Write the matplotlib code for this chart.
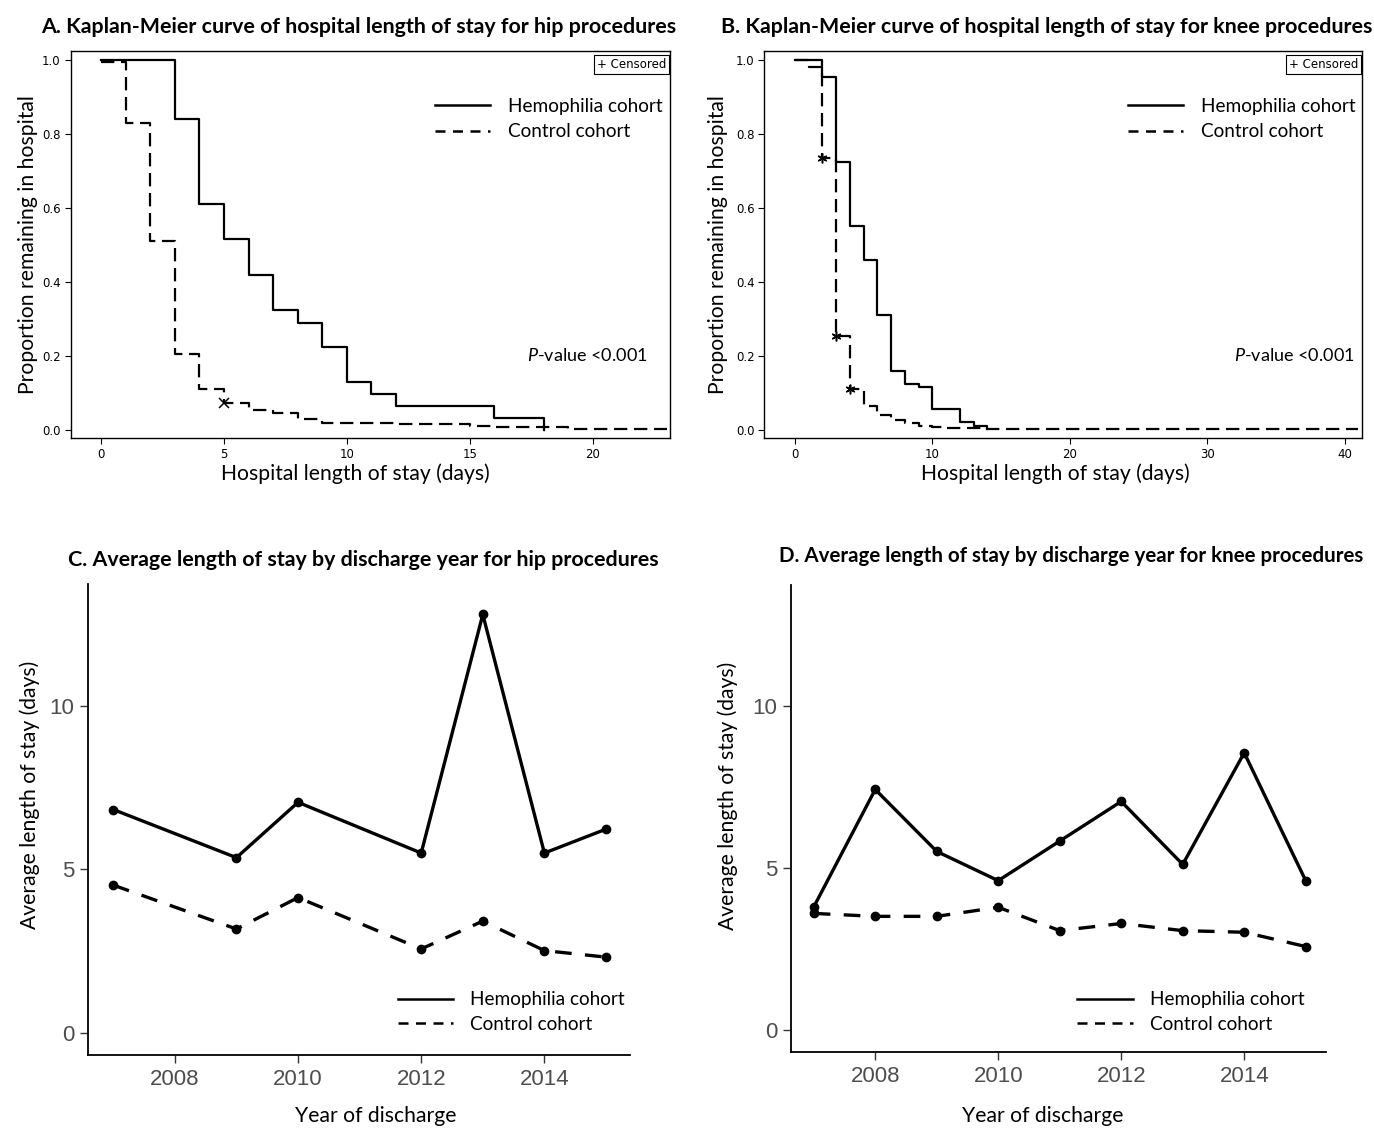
import matplotlib
matplotlib.use("Agg")
import matplotlib.pyplot as plt
from matplotlib.lines import Line2D
from matplotlib import font_manager

plt.rcParams['font.family'] = ['Lato', 'DejaVu Sans']
plt.rcParams['mathtext.fontset'] = 'custom'
plt.rcParams['mathtext.it'] = 'Lato:italic'
plt.rcParams['mathtext.rm'] = 'Lato'

# ---------------- data ----------------
# Panel A: hip procedures, Kaplan-Meier
hip_hemo_t = [0, 3, 4, 5, 6, 7, 8, 9, 10, 11, 12, 16, 18]
hip_hemo_s = [1.0, 0.84, 0.61, 0.515, 0.42, 0.325, 0.29, 0.225, 0.13, 0.097, 0.065, 0.032, 0.0]
hip_ctrl_t = [0, 1, 2, 3, 4, 5, 6, 7, 8, 9, 12, 15, 16, 19, 23]
hip_ctrl_s = [0.995, 0.83, 0.51, 0.205, 0.112, 0.072, 0.055, 0.045, 0.03, 0.018, 0.015, 0.01, 0.008, 0.004, 0.004]
hip_cens_t = [5]
hip_cens_s = [0.072]

# Panel B: knee procedures, Kaplan-Meier
knee_hemo_t = [0, 2, 3, 4, 5, 6, 7, 8, 9, 10, 12, 13, 14]
knee_hemo_s = [1.0, 0.955, 0.725, 0.55, 0.46, 0.31, 0.16, 0.125, 0.115, 0.058, 0.022, 0.01, 0.003]
knee_ctrl_t = [0, 1, 2, 3, 4, 5, 6, 7, 8, 9, 10, 11, 14, 41]
knee_ctrl_s = [1.0, 0.98, 0.735, 0.255, 0.11, 0.065, 0.04, 0.028, 0.018, 0.012, 0.008, 0.006, 0.003, 0.003]
knee_cens_t = [2, 3, 4]
knee_cens_s = [0.735, 0.255, 0.11]

# Panel C: hip, average LOS by year
hip_years_hemo = [2007, 2009, 2010, 2012, 2013, 2014, 2015]
hip_los_hemo = [6.83, 5.36, 7.05, 5.50, 12.79, 5.50, 6.23]
hip_years_ctrl = [2007, 2009, 2010, 2012, 2013, 2014, 2015]
hip_los_ctrl = [4.52, 3.18, 4.14, 2.57, 3.42, 2.52, 2.32]

# Panel D: knee, average LOS by year
knee_years = [2007, 2008, 2009, 2010, 2011, 2012, 2013, 2014, 2015]
knee_los_hemo = [3.80, 7.42, 5.51, 4.61, 5.83, 7.05, 5.11, 8.55, 4.61]
knee_los_ctrl = [3.60, 3.51, 3.51, 3.79, 3.07, 3.29, 3.07, 3.02, 2.58]

series_labels = ["Hemophilia cohort", "Control cohort"]
titles = [
    "A. Kaplan-Meier curve of hospital length of stay for hip procedures",
    "B. Kaplan-Meier curve of hospital length of stay for knee procedures",
    "C. Average length of stay by discharge year for hip procedures",
    "D. Average length of stay by discharge year for knee procedures",
]

# ---------------- figure ----------------
W, H = 1374, 1129
fig = plt.figure(figsize=(W / 100, H / 100), dpi=100)


def rect(l, t, r, b):
    return [l / W, 1 - b / H, (r - l) / W, (b - t) / H]


axA = fig.add_axes(rect(70.5, 51, 670, 438.5))
axB = fig.add_axes(rect(764.5, 51, 1362, 438.5))
axC = fig.add_axes(rect(88, 584, 630, 1055))
axD = fig.add_axes(rect(791, 585, 1326, 1052))

installed = {f.name for f in font_manager.fontManager.ttflist}
tickfont = [f for f in ['DejaVu Sans Condensed', 'Liberation Sans Narrow'] if f in installed] + ['DejaVu Sans']
km_dash = (6, 3)
LABEL_FS = 15.2


def km_panel(ax, ht, hs, ct, cs, cens_t, cens_s, xlim, xticks, cmarker, ptext_x,
             xlab_x, ylab_x):
    ax.step(ht, hs, where='post', color='black', lw=1.6)
    ax.step(ct, cs, where='post', color='black', lw=1.6, linestyle=(0, km_dash))
    ax.plot(cens_t, cens_s, linestyle='none', marker=cmarker, color='black',
            markersize=7, markeredgewidth=1.1)
    ax.set_xlim(*xlim)
    ax.set_ylim(-0.023, 1.024)
    ax.set_xticks(xticks)
    ax.set_yticks([0.0, 0.2, 0.4, 0.6, 0.8, 1.0])
    ax.set_yticklabels(['0.0', '0.2', '0.4', '0.6', '0.8', '1.0'])
    for lab in ax.get_xticklabels() + ax.get_yticklabels():
        lab.set_family(tickfont)
        lab.set_fontsize(8.5)
    ax.tick_params(direction='out', length=4, width=0.8, pad=3)
    for s in ax.spines.values():
        s.set_linewidth(1.0)
    ax.set_xlabel("Hospital length of stay (days)", fontsize=LABEL_FS)
    ax.set_ylabel("Proportion remaining in hospital", fontsize=LABEL_FS)
    ax.xaxis.set_label_coords(xlab_x, -0.063)
    ax.yaxis.set_label_coords(ylab_x, 0.5)
    handles = [Line2D([], [], color='black', lw=1.8),
               Line2D([], [], color='black', lw=1.8, linestyle=(0, (4, 3)))]
    ax.legend(handles, series_labels, loc='upper left', bbox_to_anchor=(0.595, 0.899),
              frameon=False, fontsize=13.7, handlelength=2.9, handletextpad=0.95,
              labelspacing=0.45, borderaxespad=0)
    ax.text(0.994, 0.983, "+ Censored", transform=ax.transAxes, ha='right', va='top',
            fontsize=8.5, family=tickfont,
            bbox=dict(boxstyle='square,pad=0.25', fc='white', ec='black', lw=0.8))
    ax.text(ptext_x, 0.213, r"$P$-value <0.001", transform=ax.transAxes,
            ha='right', va='center', fontsize=13)


km_panel(axA, hip_hemo_t, hip_hemo_s, hip_ctrl_t, hip_ctrl_s, hip_cens_t, hip_cens_s,
         (-1.24, 23.14), [0, 5, 10, 15, 20], 'x', 0.963, 0.476, -0.054)
km_panel(axB, knee_hemo_t, knee_hemo_s, knee_ctrl_t, knee_ctrl_s, knee_cens_t, knee_cens_s,
         (-2.22, 41.27), [0, 10, 20, 30, 40], (6, 2, 0), 0.987, 0.486, -0.061)


def los_panel(ax, yh, vh, yc, vc, xlim, xlab_xy, ylab_xy, leg_anchor):
    ax.plot(yh, vh, color='black', lw=2.4, marker='o', markersize=6)
    ax.plot(yc, vc, color='black', lw=2.4, marker='o', markersize=6,
            linestyle=(0, (5, 4)))
    ax.set_xlim(*xlim)
    ax.set_ylim(-0.67, 13.72)
    ax.set_xticks([2008, 2010, 2012, 2014])
    ax.set_yticks([0, 5, 10])
    ax.spines['top'].set_visible(False)
    ax.spines['right'].set_visible(False)
    for s in ['left', 'bottom']:
        ax.spines[s].set_linewidth(1.3)
    ax.tick_params(direction='out', length=6, width=1.0, color='#333333',
                   labelcolor='#4D4D4D', labelsize=16, pad=4)
    for lab in ax.get_xticklabels() + ax.get_yticklabels():
        lab.set_family(['Liberation Sans', 'DejaVu Sans'])
    ax.set_xlabel("Year of discharge", fontsize=LABEL_FS)
    ax.set_ylabel("Average length of stay (days)", fontsize=LABEL_FS)
    ax.xaxis.set_label_coords(*xlab_xy)
    ax.yaxis.set_label_coords(*ylab_xy)
    handles = [Line2D([], [], color='black', lw=1.8),
               Line2D([], [], color='black', lw=1.8, linestyle=(0, (4, 3)))]
    ax.legend(handles, series_labels, loc='upper left', bbox_to_anchor=leg_anchor,
              frameon=False, fontsize=13.7, handlelength=2.9, handletextpad=0.9,
              labelspacing=0.39, borderaxespad=0)


los_panel(axC, hip_years_hemo, hip_los_hemo, hip_years_ctrl, hip_los_ctrl,
          (2006.59, 2015.39), (0.53, -0.108), (-0.089, 0.552), (0.557, 0.151))
los_panel(axD, knee_years, knee_los_hemo, knee_years, knee_los_ctrl,
          (2006.63, 2015.33), (0.471, -0.115), (-0.099, 0.548), (0.521, 0.146))

TITLE_FS = 15.4
fig.text(359 / W, 1 - 27 / H, titles[0], ha='center', va='center', fontsize=TITLE_FS, fontweight='bold')
fig.text(1047 / W, 1 - 27 / H, titles[1], ha='center', va='center', fontsize=TITLE_FS, fontweight='bold')
fig.text(363 / W, 1 - 560 / H, titles[2], ha='center', va='center', fontsize=TITLE_FS, fontweight='bold')
fig.text(1071 / W, 1 - 556 / H, titles[3], ha='center', va='center', fontsize=14.8, fontweight='bold')

fig.savefig("out.png", dpi=100, facecolor='white')
